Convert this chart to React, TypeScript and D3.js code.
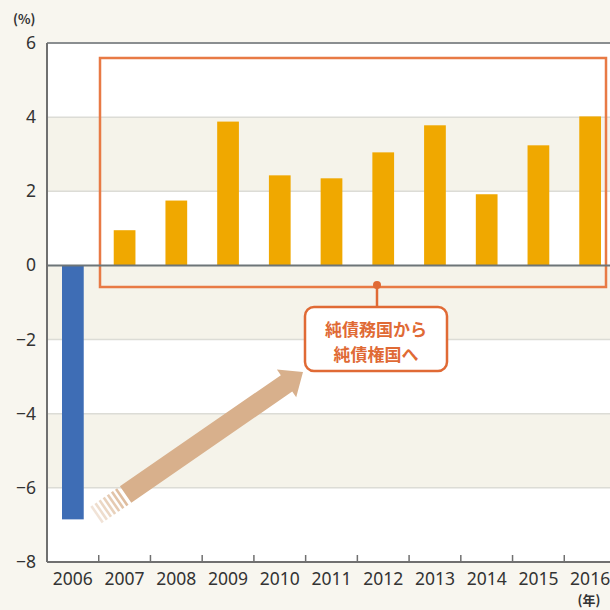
import React, { useRef, useEffect } from 'react';
import * as d3 from 'd3';

const years = ['2006', '2007', '2008', '2009', '2010', '2011', '2012', '2013', '2014', '2015', '2016'];
const balances = [-6.85, 0.95, 1.75, 3.88, 2.43, 2.35, 3.05, 3.78, 1.92, 3.24, 4.02];
const yTicks = [-8, -6, -4, -2, 0, 2, 4, 6];
const shadedBands: [number, number][] = [[2, 4], [-2, 0], [-6, -4]];
const calloutLines = ['純債務国から', '純債権国へ'];

const W = 610;
const H = 610;

const App: React.FC = () => {
  const ref = useRef<SVGSVGElement>(null);

  useEffect(() => {
    if (!ref.current) return;
    const svg = d3.select(ref.current);
    svg.selectAll('*').remove();

    const left = 47, right = 616, top = 43, bottom = 562;
    const y = d3.scaleLinear().domain([-8, 6]).range([bottom, top]);
    const x = d3.scaleBand<string>()
      .domain(years)
      .range([left, right])
      .paddingInner(0.58)
      .paddingOuter(0.29);

    // page background
    svg.append('rect').attr('width', W).attr('height', H).attr('fill', '#f8f6ef');
    // plot area
    svg.append('rect')
      .attr('x', left).attr('y', top)
      .attr('width', right - left).attr('height', bottom - top)
      .attr('fill', '#ffffff');

    svg.selectAll('.band')
      .data(shadedBands)
      .enter()
      .append('rect')
      .attr('x', left)
      .attr('y', d => y(d[1]))
      .attr('width', right - left)
      .attr('height', d => y(d[0]) - y(d[1]))
      .attr('fill', '#f5f3ea');

    // gridlines
    svg.selectAll('.grid')
      .data(yTicks.filter(t => t !== 0 && t !== -8))
      .enter()
      .append('line')
      .attr('x1', left).attr('x2', right)
      .attr('y1', d => y(d)).attr('y2', d => y(d))
      .attr('stroke', d => (d === 6 ? '#8a8e90' : '#dcdcd6'))
      .attr('stroke-width', d => (d === 6 ? 2 : 1.5));

    // orange highlight frame
    svg.append('rect')
      .attr('x', 100).attr('y', 58)
      .attr('width', 506).attr('height', 229)
      .attr('fill', 'none')
      .attr('stroke', '#e87a45')
      .attr('stroke-width', 2.5);

    // arrow (tail stripes + body)
    const ax0 = 96, ay0 = 515, ax1 = 303, ay1 = 372;
    const ang = Math.atan2(ay1 - ay0, ax1 - ax0);
    const len = Math.hypot(ax1 - ax0, ay1 - ay0);
    const g = svg.append('g')
      .attr('transform', `translate(${ax0},${ay0}) rotate(${(ang * 180) / Math.PI})`);
    const hw = 10;
    for (let i = 0; i < 7; i++) {
      g.append('rect')
        .attr('x', i * 5).attr('y', -hw)
        .attr('width', 2.6).attr('height', hw * 2)
        .attr('fill', '#d8b08c')
        .attr('opacity', 0.35 + i * 0.08);
    }
    g.append('path')
      .attr('d', `M36,${-hw} L${len - 20},${-hw} L${len - 20},${-hw - 7} L${len},0 L${len - 20},${hw + 7} L${len - 20},${hw} L36,${hw} Z`)
      .attr('fill', '#d8b08c');

    // bars
    svg.selectAll('.bar')
      .data(balances)
      .enter()
      .append('rect')
      .attr('x', (_, i) => x(years[i])!)
      .attr('y', d => y(Math.max(0, d)))
      .attr('width', x.bandwidth())
      .attr('height', d => Math.abs(y(d) - y(0)))
      .attr('fill', d => (d < 0 ? '#3e6db5' : '#f0a800'));

    // zero line
    svg.append('line')
      .attr('x1', left).attr('x2', right)
      .attr('y1', y(0)).attr('y2', y(0))
      .attr('stroke', '#6d7578').attr('stroke-width', 2);

    // axes
    svg.append('line')
      .attr('x1', left).attr('x2', left)
      .attr('y1', top).attr('y2', bottom)
      .attr('stroke', '#707070').attr('stroke-width', 2);
    svg.append('line')
      .attr('x1', left).attr('x2', right)
      .attr('y1', bottom).attr('y2', bottom)
      .attr('stroke', '#707070').attr('stroke-width', 2);

    const step = x.step();
    svg.selectAll('.xtick')
      .data(years.slice(1))
      .enter()
      .append('line')
      .attr('x1', d => x(d)! - (step - x.bandwidth()) / 2)
      .attr('x2', d => x(d)! - (step - x.bandwidth()) / 2)
      .attr('y1', bottom).attr('y2', bottom - 7)
      .attr('stroke', '#707070').attr('stroke-width', 1.5);

    const font = '"Noto Sans", "Noto Sans CJK JP", sans-serif';
    svg.selectAll('.xlabel')
      .data(years)
      .enter()
      .append('text')
      .attr('x', d => x(d)! + x.bandwidth() / 2)
      .attr('y', 585)
      .attr('text-anchor', 'middle')
      .attr('font-family', font)
      .attr('font-size', 17.5)
      .attr('fill', '#333')
      .text(d => d);

    svg.selectAll('.ylabel')
      .data(yTicks)
      .enter()
      .append('text')
      .attr('x', 36)
      .attr('y', d => y(d) + 6)
      .attr('text-anchor', 'end')
      .attr('font-family', font)
      .attr('font-size', 17.5)
      .attr('fill', '#333')
      .text(d => (d < 0 ? `\u2212${-d}` : `${d}`));

    svg.append('text')
      .attr('x', 13).attr('y', 24)
      .attr('font-family', '"Noto Sans CJK JP", sans-serif')
      .attr('font-size', 13).attr('font-weight', 'bold')
      .attr('fill', '#333')
      .text('(%)');
    svg.append('text')
      .attr('x', 589).attr('y', 605)
      .attr('text-anchor', 'middle')
      .attr('font-family', '"Noto Sans CJK JP", sans-serif')
      .attr('font-size', 13).attr('font-weight', 'bold')
      .attr('fill', '#333')
      .text('(年)');

    // callout
    svg.append('line')
      .attr('x1', 377).attr('x2', 377)
      .attr('y1', 287).attr('y2', 307)
      .attr('stroke', '#e06a35').attr('stroke-width', 2.5);
    svg.append('circle')
      .attr('cx', 377).attr('cy', 285).attr('r', 4)
      .attr('fill', '#e06a35');
    svg.append('rect')
      .attr('x', 305).attr('y', 307)
      .attr('width', 142).attr('height', 64)
      .attr('rx', 9)
      .attr('fill', '#ffffff')
      .attr('stroke', '#e06a35').attr('stroke-width', 2.5);
    svg.selectAll('.callout')
      .data(calloutLines)
      .enter()
      .append('text')
      .attr('x', 376)
      .attr('y', (_, i) => 336 + i * 25)
      .attr('text-anchor', 'middle')
      .attr('font-family', '"Noto Sans CJK JP", sans-serif')
      .attr('font-size', 17).attr('font-weight', 'bold')
      .attr('fill', '#e06a35')
      .text(d => d);
  }, []);

  return (
    <div style={{ position: 'fixed', left: 0, top: 0 }}>
      <svg ref={ref} width={W} height={H} style={{ display: 'block' }} />
    </div>
  );
};

export default App;
